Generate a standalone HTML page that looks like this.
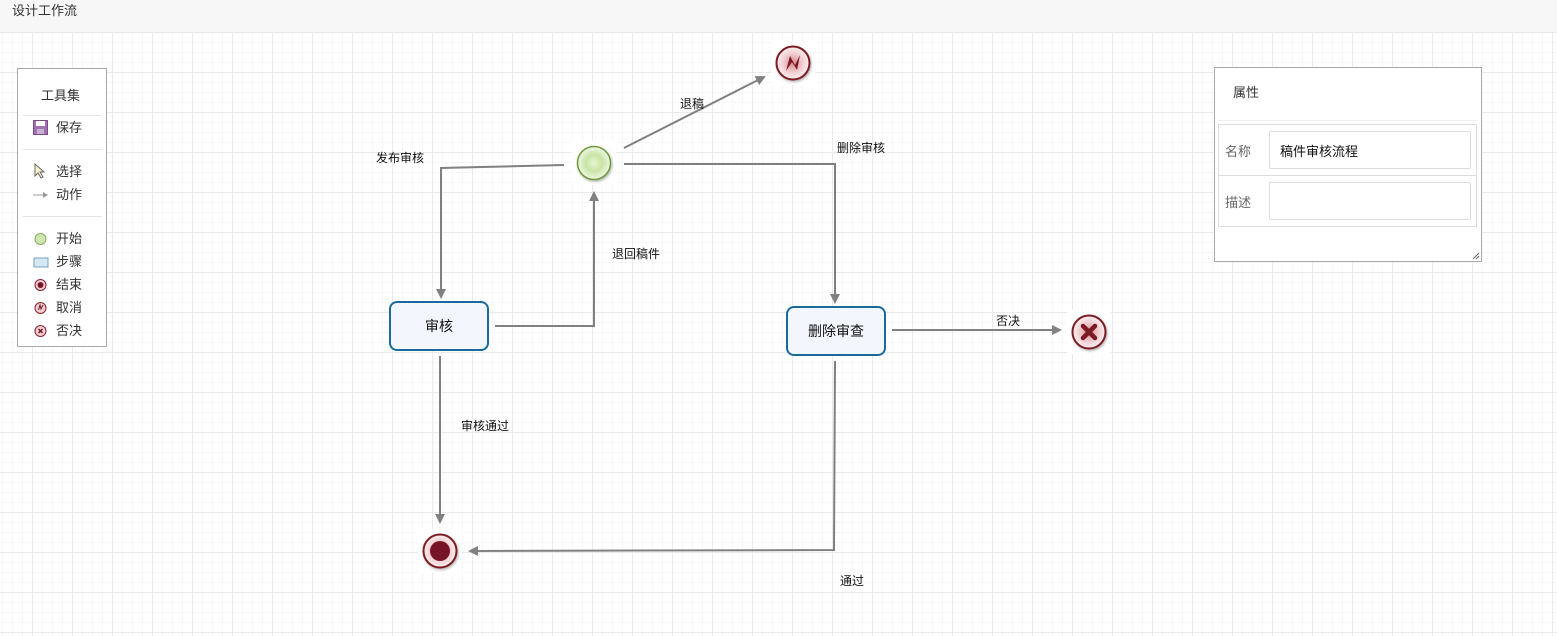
<!DOCTYPE html>
<html><head><meta charset="utf-8"><style>
html,body{margin:0;padding:0;width:1557px;height:636px;overflow:hidden;background:#fff;font-family:"Liberation Sans","Noto Sans CJK SC",sans-serif;}
#hdr{position:absolute;left:0;top:0;width:1557px;height:32px;background:#f7f7f7;border-bottom:1px solid #e8e8e8;font-size:13px;color:#333;line-height:22px;}
#hdr span{position:absolute;left:12px;top:0;}
#grid{position:absolute;left:0;top:33px;width:1557px;height:603px;
background-image:linear-gradient(#eaeaea 1px,transparent 1px),linear-gradient(90deg,#eaeaea 1px,transparent 1px),linear-gradient(#f7f7f7 1px,transparent 1px),linear-gradient(90deg,#f7f7f7 1px,transparent 1px);
background-size:40px 40px,40px 40px,10px 10px,10px 10px;background-position:0 -1px,-8px 0,0 -1px,-8px 0;}
.lbl{position:absolute;font-size:12px;color:#111;white-space:nowrap;}
#tools{position:absolute;left:17px;top:68px;width:88px;height:277px;border:1px solid #aaa;background:#fff;font-size:13px;color:#333;}
#tools .t{position:absolute;left:38px;}
#tools .hr{position:absolute;left:5px;width:79px;height:1px;background:#e5e5e5;}
#props{position:absolute;left:1214px;top:67px;width:266px;height:193px;border:1px solid #aaa;background:#fff;font-size:13px;color:#333;}
.box{position:absolute;width:96px;height:46px;border:2px solid #1a6a9a;border-radius:8px;background:#f4f6fd;font-size:14px;color:#111;text-align:center;line-height:46px;}
</style></head><body>
<div id="hdr"><span>设计工作流</span></div>
<div id="grid"></div>
<svg width="1557" height="636" style="position:absolute;left:0;top:0">
<defs>
<radialGradient id="g" cx="50%" cy="50%" r="50%"><stop offset="0" stop-color="#e6f4d4"/><stop offset="0.5" stop-color="#c8e4a4"/><stop offset="1" stop-color="#f0f8e8"/></radialGradient>
<radialGradient id="r" cx="50%" cy="50%" r="50%"><stop offset="0" stop-color="#d88a90"/><stop offset="0.6" stop-color="#f2cfd2"/><stop offset="1" stop-color="#fbeff0"/></radialGradient>
<marker id="a" markerWidth="10" markerHeight="10" refX="8" refY="5" orient="auto" markerUnits="userSpaceOnUse"><path d="M0,0 L10,5 L0,10 z" fill="#808080"/></marker>
<filter id="sh" x="-30%" y="-30%" width="160%" height="160%"><feDropShadow dx="1" dy="1.5" stdDeviation="1.2" flood-color="#000" flood-opacity="0.3"/></filter>
</defs>
<g fill="#fff"><rect x="572" y="141" width="44" height="44"/><rect x="771" y="41" width="44" height="44"/><rect x="1067" y="310" width="44" height="44"/><rect x="418" y="529" width="44" height="44"/></g>
<g stroke="#808080" stroke-width="2" fill="none" marker-end="url(#a)">
<polyline points="564,165 441,168 441,297"/>
<polyline points="495,326 594,326 594,193"/>
<line x1="624" y1="148" x2="764" y2="77"/>
<polyline points="624,164 835,164 835,302"/>
<line x1="892" y1="330" x2="1060" y2="330"/>
<polyline points="835,361 834,550 470,551"/>
<line x1="440" y1="356" x2="440" y2="522"/>
</g>
<circle cx="594" cy="163" r="16.5" fill="url(#g)" stroke="#6d9a3a" stroke-width="1.5" filter="url(#sh)"/>
<circle cx="793" cy="63" r="16.5" fill="url(#r)" stroke="#7a1a24" stroke-width="2" filter="url(#sh)"/>
<path d="M786,71 L790,56 L795,65 L800,55 L797,70 L792,62 Z" fill="#7a1a24"/>
<circle cx="1089" cy="332" r="16.5" fill="url(#r)" stroke="#7a1a24" stroke-width="2" filter="url(#sh)"/>
<path d="M1083,326 L1095,338 M1095,326 L1083,338" stroke="#7a1a24" stroke-width="4.5" stroke-linecap="round"/>
<circle cx="440" cy="551" r="16.5" fill="url(#r)" stroke="#7a1a24" stroke-width="2" filter="url(#sh)"/>
<circle cx="440" cy="551" r="10" fill="#761525"/>
</svg>
<div class="box" style="left:389px;top:301px;">审核</div>
<div class="box" style="left:786px;top:306px;">删除审查</div>
<div class="lbl" style="left:680px;top:95px;">退稿</div>
<div class="lbl" style="left:376px;top:149px;">发布审核</div>
<div class="lbl" style="left:837px;top:139px;">删除审核</div>
<div class="lbl" style="left:612px;top:245px;">退回稿件</div>
<div class="lbl" style="left:996px;top:312px;">否决</div>
<div class="lbl" style="left:461px;top:417px;">审核通过</div>
<div class="lbl" style="left:840px;top:572px;">通过</div>
<div id="tools">
<div class="t" style="left:23px;top:16px;">工具集</div>
<div class="hr" style="top:46px"></div>
<svg style="position:absolute;left:15px;top:51px" width="15" height="15"><rect x="0.5" y="0.5" width="14" height="14" fill="#a070b0" stroke="#7a4a8a"/><rect x="3" y="1" width="9" height="5" fill="#fff"/><rect x="4" y="9" width="7" height="5" fill="#c8b0d0"/></svg>
<div class="t" style="top:48px;">保存</div>
<div class="hr" style="top:80px"></div>
<svg style="position:absolute;left:16px;top:94px" width="12" height="16"><path d="M1,1 L1,13 L4,10 L7,15 L9,14 L6,9 L10,9 Z" fill="#f8f4d0" stroke="#666"/></svg>
<div class="t" style="top:92px;">选择</div>
<svg style="position:absolute;left:15px;top:122px" width="16" height="8"><path d="M0,4 L11,4" stroke="#999"/><path d="M10,1 L15,4 L10,7z" fill="#999"/></svg>
<div class="t" style="top:115px;">动作</div>
<div class="hr" style="top:147px"></div>
<svg style="position:absolute;left:15px;top:163px" width="16" height="120">
<circle cx="7.5" cy="7" r="5.5" fill="#cfe6b0" stroke="#8aaa60"/>
<rect x="1" y="26" width="14" height="9" fill="#d6e8f4" stroke="#7aa0c0"/>
<circle cx="7.5" cy="53" r="5.5" fill="#f0d0d4" stroke="#8a2030"/><circle cx="7.5" cy="53" r="3" fill="#761525"/>
<circle cx="7.5" cy="76" r="5.5" fill="#f0d0d4" stroke="#8a2030"/><path d="M5.5,78 L7,73 L8,77 L10,73" stroke="#761525" fill="none"/>
<circle cx="7.5" cy="99" r="5.5" fill="#f0d0d4" stroke="#8a2030"/><path d="M5.5,97 L9.5,101 M9.5,97 L5.5,101" stroke="#761525" stroke-width="1.5"/>
</svg>
<div class="t" style="top:159px;">开始</div>
<div class="t" style="top:182px;">步骤</div>
<div class="t" style="top:205px;">结束</div>
<div class="t" style="top:228px;">取消</div>
<div class="t" style="top:251px;">否决</div>
</div>
<div id="props">
<div style="position:absolute;left:18px;top:14px;">属性</div>
<div style="position:absolute;left:3px;top:52px;width:259px;height:1px;background:#eee"></div>
<div style="position:absolute;left:3px;top:56px;width:257px;height:101px;border:1px solid #ddd;"></div>
<div style="position:absolute;left:3px;top:107px;width:259px;height:1px;background:#ddd"></div>
<div style="position:absolute;left:10px;top:73px;color:#666">名称</div>
<div style="position:absolute;left:10px;top:124px;color:#666">描述</div>
<div style="position:absolute;left:54px;top:63px;width:200px;height:36px;border:1px solid #ddd;border-radius:2px;"><span style="position:absolute;left:10px;top:9px;color:#111">稿件审核流程</span></div>
<div style="position:absolute;left:54px;top:114px;width:200px;height:36px;border:1px solid #ddd;border-radius:2px;"></div>
<svg style="position:absolute;right:1px;bottom:1px" width="8" height="8"><path d="M7,1 L1,7 M7,4 L4,7" stroke="#666"/></svg>
</div>
</body></html>
